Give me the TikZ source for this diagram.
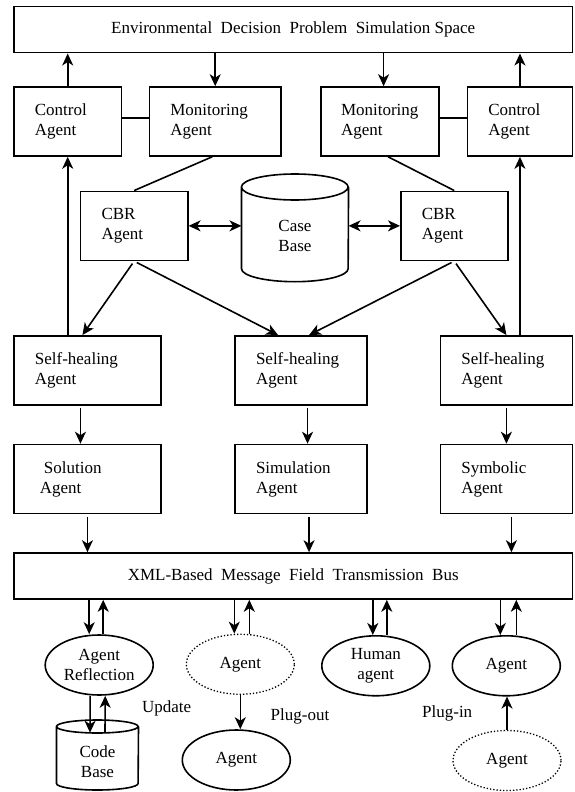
\documentclass[tikz,border=0pt]{standalone}
\usepackage{fontspec}
\setmainfont{Liberation Serif}
\usetikzlibrary{arrows.meta,shapes.geometric,positioning}

\begin{document}
\begin{tikzpicture}[x=1pt,y=-1pt,
  font=\fontsize{17}{20}\selectfont,
  every node/.style={inner sep=0pt},
  box/.style={draw, line width=1.6pt, inner xsep=21pt, align=left, text width=#1, minimum height=69pt},
  bar/.style={draw, line width=1.6pt, minimum width=558.6pt, minimum height=46pt},
  oval/.style={draw, ellipse, line width=1.6pt, align=center, minimum width=108pt, minimum height=60pt},
  dotoval/.style={oval, line width=1.3pt, dotted},
  store/.style={align=center, minimum width=#1},
  line/.style={line width=1.6pt},
  arr/.style={line, -{Stealth[length=12pt,width=11pt,inset=3.5pt]}},
  dbl/.style={line, {Stealth[length=12pt,width=11pt,inset=3.5pt]}-{Stealth[length=12pt,width=11pt,inset=3.5pt]}}]
\useasboundingbox (0,0) rectangle (574,792);
% Simulation space on top
  \node[bar] (env) at (293.2,29.7) {Environmental\ \ Decision\ \ Problem\ \ Simulation Space};
% Control / monitoring row
  \node[box=65.6pt] (ctlL) at (67.7,121.5) {Control\\Agent};
  \node[box=89.8pt] (monL) at (215.2,121.5) {Monitoring\\Agent};
  \node[box=78.2pt, inner xsep=20pt] (monR) at (380.1,121.5) {Monitoring\\Agent};
  \node[box=63.1pt] (ctlR) at (519.95,121.5) {Control\\Agent};
% CBR agents and case base
  \node[box=65.3pt] (cbrL) at (134.15,225.85) {CBR\\Agent};
  \node[box=64.9pt] (cbrR) at (454.25,225.85) {CBR\\Agent};
  \node[store=106.7pt] (cb) at (295,236) {Case\\Base};
  \draw[line] ([yshift=49pt]cb.west) arc[start angle=180,end angle=360,x radius=53.35pt,y radius=13pt]
    arc[start angle=0,end angle=180,x radius=53.35pt,y radius=13pt]
    -- ([yshift=-32.7pt]cb.west) arc[start angle=180,end angle=360,x radius=53.35pt,y radius=13pt]
    -- ([yshift=49pt]cb.east);
% Self-healing row
  \node[box=105.1pt] (sh1) at (87.45,370.35) {Self-healing\\Agent};
  \node[box=90.1pt] (sh2) at (301.05,370.35) {Self-healing\\Agent};
  \node[box=90.2pt] (sh3) at (506.4,370.35) {Self-healing\\Agent};
% Working agents row
  \node[box=105.1pt] (sol) at (87.45,479) {\hspace*{9pt}Solution\\\hspace*{5pt}Agent};
  \node[box=90.1pt] (sim) at (301.05,479) {Simulation\\Agent};
  \node[box=90.2pt] (sym) at (506.4,479) {Symbolic\\Agent};
% Message bus
  \node[bar] (bus) at (293.2,576) {XML-Based\ \ Message\ \ Field\ \ Transmission\ \ Bus};
% Agents under the bus
  \node[oval] (ar) at (99.2,665) {Agent\\Reflection};
  \node[dotoval] (ag1) at (240.3,664.3) {Agent};
  \node[oval] (hum) at (375.8,665.8) {Human\\agent};
  \node[oval] (ag4) at (506.3,665.8) {Agent};
  \node[oval] (ag2) at (236.3,760) {Agent};
  \node[dotoval] (ag5) at (507,760.5) {Agent};
% Code base
  \node[store=81.6pt] (cdb) at (97.5,761.7) {Code\\Base};
  \draw[line] ([yshift=35.2pt]cdb.west) arc[start angle=180,end angle=360,x radius=40.8pt,y radius=6.5pt]
    arc[start angle=0,end angle=180,x radius=40.8pt,y radius=6.5pt]
    -- ([yshift=-21.8pt]cdb.west) arc[start angle=180,end angle=360,x radius=40.8pt,y radius=6.5pt]
    -- ([yshift=35.2pt]cdb.east);
% Labels
  \node (upd) at (166.7,708.3) {Update};
  \node (pout) at (300,716.7) {Plug-out};
  \node (pin) at (447.2,713.3) {Plug-in};

% Top connections
  \draw[arr] (ctlL.north) -- (ctlL.north |- env.south);
  \draw[arr] (monL.north |- env.south) -- (monL.north);
  \draw[arr] ([xshift=3.5pt]monR.north |- env.south) -- ([xshift=3.5pt]monR.north);
  \draw[arr] (ctlR.north) -- (ctlR.north |- env.south);
  \draw[line] ([yshift=3.5pt]ctlL.east) -- ([yshift=3.5pt]monL.west);
  \draw[line] ([yshift=3.5pt]monR.east) -- ([yshift=3.5pt]ctlR.west);
% Feedback to control agents
  \draw[arr] (sh1.north -| ctlL.south) -- (ctlL.south);
  \draw[arr] (sh3.north -| ctlR.south) -- (ctlR.south);
% Monitoring to CBR, CBR to case base
  \draw[line] ([xshift=-3pt]monL.south) -- (cbrL.north);
  \draw[line] ([xshift=8pt]monR.south) -- (cbrR.north);
  \draw[dbl] (cbrL.east) -- (cbrL.east -| cb.west);
  \draw[dbl] (cb.east |- cbrR.west) -- (cbrR.west);
% CBR to self-healing
  \draw[arr, shorten <=3pt] (cbrL.south) -- ([xshift=-5pt]sh1.north);
  \draw[arr, shorten <=3pt] (cbrL.south) -- ([xshift=-23pt]sh2.north);
  \draw[arr, shorten <=3pt] (cbrR.south) -- ([xshift=8pt]sh2.north);
  \draw[arr, shorten <=3pt] (cbrR.south) -- (sh3.north);
% Self-healing to working agents
  \draw[arr, shorten <=2pt] ([xshift=-7pt]sh1.south) -- ([xshift=-7pt]sol.north);
  \draw[arr, shorten <=2pt] ([xshift=6.5pt]sh2.south) -- ([xshift=6.5pt]sim.north);
  \draw[arr, shorten <=2pt] (sh3.south) -- (sym.north);
% Working agents to bus
  \draw[arr, shorten <=2.5pt] (sol.south) -- (sol.south |- bus.north);
  \draw[arr, shorten <=2.5pt] ([xshift=8pt]sim.south) -- ([xshift=8pt]sim.south |- bus.north);
  \draw[arr, shorten <=2.5pt] ([xshift=5pt]sym.south) -- ([xshift=5pt]sym.south |- bus.north);
% Bus to agents and back
  \draw[arr] ([xshift=-10pt]ar.north |- bus.south) -- ([xshift=-10pt]ar.north);
  \draw[arr] ([xshift=4pt]ar.north) -- ([xshift=4pt]ar.north |- bus.south);
  \draw[arr] ([xshift=-6pt]ag1.north |- bus.south) -- ([xshift=-6pt]ag1.north);
  \draw[arr] ([xshift=9pt]ag1.north) -- ([xshift=9pt]ag1.north |- bus.south);
  \draw[arr] ([xshift=-3pt]hum.north |- bus.south) -- ([xshift=-3pt]hum.north);
  \draw[arr] ([xshift=11pt]hum.north) -- ([xshift=11pt]hum.north |- bus.south);
  \draw[arr] ([xshift=-6pt]ag4.north |- bus.south) -- ([xshift=-6pt]ag4.north);
  \draw[arr] ([xshift=10pt]ag4.north) -- ([xshift=10pt]ag4.north |- bus.south);
% Reflection and code base
  \draw[arr] ([xshift=-9pt]ar.south) -- ([xshift=-7.5pt,yshift=29pt]cdb.center);
  \draw[arr] ([xshift=7.5pt,yshift=29pt]cdb.center) -- ([xshift=6pt]ar.south);
% Plug-out and plug-in
  \draw[arr] (ag1.south) -- (ag1.south |- ag2.north);
  \draw[arr] (ag5.north) -- (ag5.north |- ag4.south);
\end{tikzpicture}
\end{document}
